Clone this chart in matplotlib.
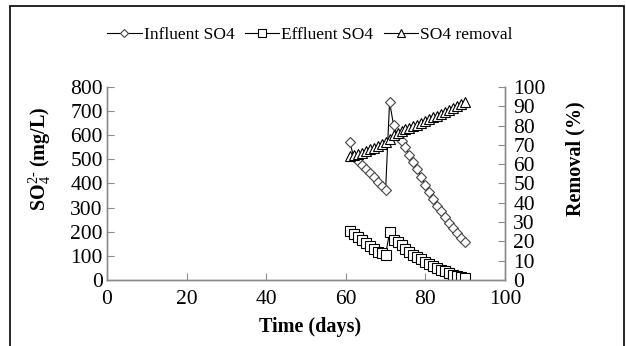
import matplotlib
matplotlib.use('Agg')
import matplotlib.pyplot as plt
from matplotlib.patches import Rectangle

plt.rcParams['font.family'] = ['Liberation Serif', 'DejaVu Serif']
plt.rcParams['mathtext.fontset'] = 'custom'
plt.rcParams['mathtext.rm'] = 'Liberation Serif'
plt.rcParams['mathtext.it'] = 'Liberation Serif:italic'
plt.rcParams['mathtext.bf'] = 'Liberation Serif:bold'

# data
days = [61, 62, 63, 64, 65, 66, 67, 68, 69, 70,
        71, 72, 73, 74, 75, 76, 77, 78, 79, 80,
        81, 82, 83, 84, 85, 86, 87, 88, 89, 90]
influent = [570, 511, 494, 477, 460, 443, 425, 408, 391, 373,
            738, 642, 600, 575, 550, 520, 490, 460, 425, 395,
            365, 335, 305, 285, 260, 235, 215, 195, 175, 157]
effluent = [205, 190, 178, 166, 152, 140, 128, 118, 112, 104,
            198, 165, 158, 145, 130, 118, 105, 95, 85, 75,
            66, 58, 50, 43, 36, 29, 22, 17, 12, 10]
removal = [64, 64.5, 65.5, 66, 67, 68, 68.5, 69.5, 70.5, 71.5,
           73, 75, 76, 77, 78, 79, 80, 80.5, 81.5, 82.5,
           83.5, 84.5, 85, 86, 87, 88, 89, 90, 91, 92]

xticks = [0, 20, 40, 60, 80, 100]
left_ticks = list(range(0, 801, 100))
right_ticks = list(range(0, 101, 10))

spine_col = '#8c8c8c'
tick_fs = 15.5
label_fs = 14.5

fig = plt.figure(figsize=(6.26, 3.46), dpi=100)
ax1 = fig.add_axes([0.1709, 0.1908, 0.6358, 0.5578])
ax2 = ax1.twinx()

l1, = ax1.plot(days, influent, color='black', lw=0.8, marker='D', markersize=5,
               markerfacecolor='white', markeredgecolor='#444444', markeredgewidth=0.8,
               label='Influent SO4')
l2, = ax1.plot(days, effluent, color='black', lw=0.8, marker='s', markersize=7,
               markerfacecolor='white', markeredgecolor='black', markeredgewidth=0.8,
               label='Effluent SO4')
l3, = ax2.plot(days, removal, color='black', lw=0.8, marker='^', markersize=7,
               markerfacecolor='white', markeredgecolor='black', markeredgewidth=0.8,
               label='SO4 removal')

ax1.set_xlim(0, 100)
ax1.set_ylim(0, 800)
ax2.set_ylim(0, 100)
ax1.set_xticks(xticks)
ax1.set_yticks(left_ticks)
ax2.set_yticks(right_ticks)

for ax in (ax1, ax2):
    ax.spines['top'].set_visible(False)
    for s in ('left', 'right', 'bottom'):
        ax.spines[s].set_color(spine_col)
        ax.spines[s].set_linewidth(1.0)
ax1.tick_params(axis='both', direction='in', length=5, color=spine_col,
                labelsize=tick_fs, labelcolor='black')
ax1.tick_params(axis='y', pad=3)
ax1.tick_params(axis='x', pad=7)
ax2.tick_params(axis='y', direction='in', length=5, color=spine_col,
                labelsize=tick_fs, labelcolor='black', pad=6)

ax1.set_xlabel('Time (days)', fontsize=label_fs, fontweight='bold')
ax1.set_ylabel(r'SO$_4^{2\text{-}}$ (mg/L)', fontsize=label_fs, fontweight='bold')
ax2.set_ylabel('Removal (%)', fontsize=label_fs, fontweight='bold')
ax1.yaxis.set_label_coords(-0.135, 0.63)
ax2.yaxis.set_label_coords(1.151, 0.63)
ax1.xaxis.set_label_coords(0.51, -0.19)

leg = fig.legend(handles=[l1, l2, l3], loc='center', bbox_to_anchor=(0.495, 0.9),
                 ncol=3, frameon=False, fontsize=12.5, handlelength=2.0,
                 handletextpad=0.1, columnspacing=0.6, markerscale=0.8)

# outer frame of the figure panel
fig.add_artist(Rectangle((10 / 626, -0.05), 614 / 626, 1 - 6 / 346 + 0.05,
                         transform=fig.transFigure, fill=False,
                         edgecolor='black', lw=1.2, clip_on=False))

fig.savefig('out.png', dpi=100)
